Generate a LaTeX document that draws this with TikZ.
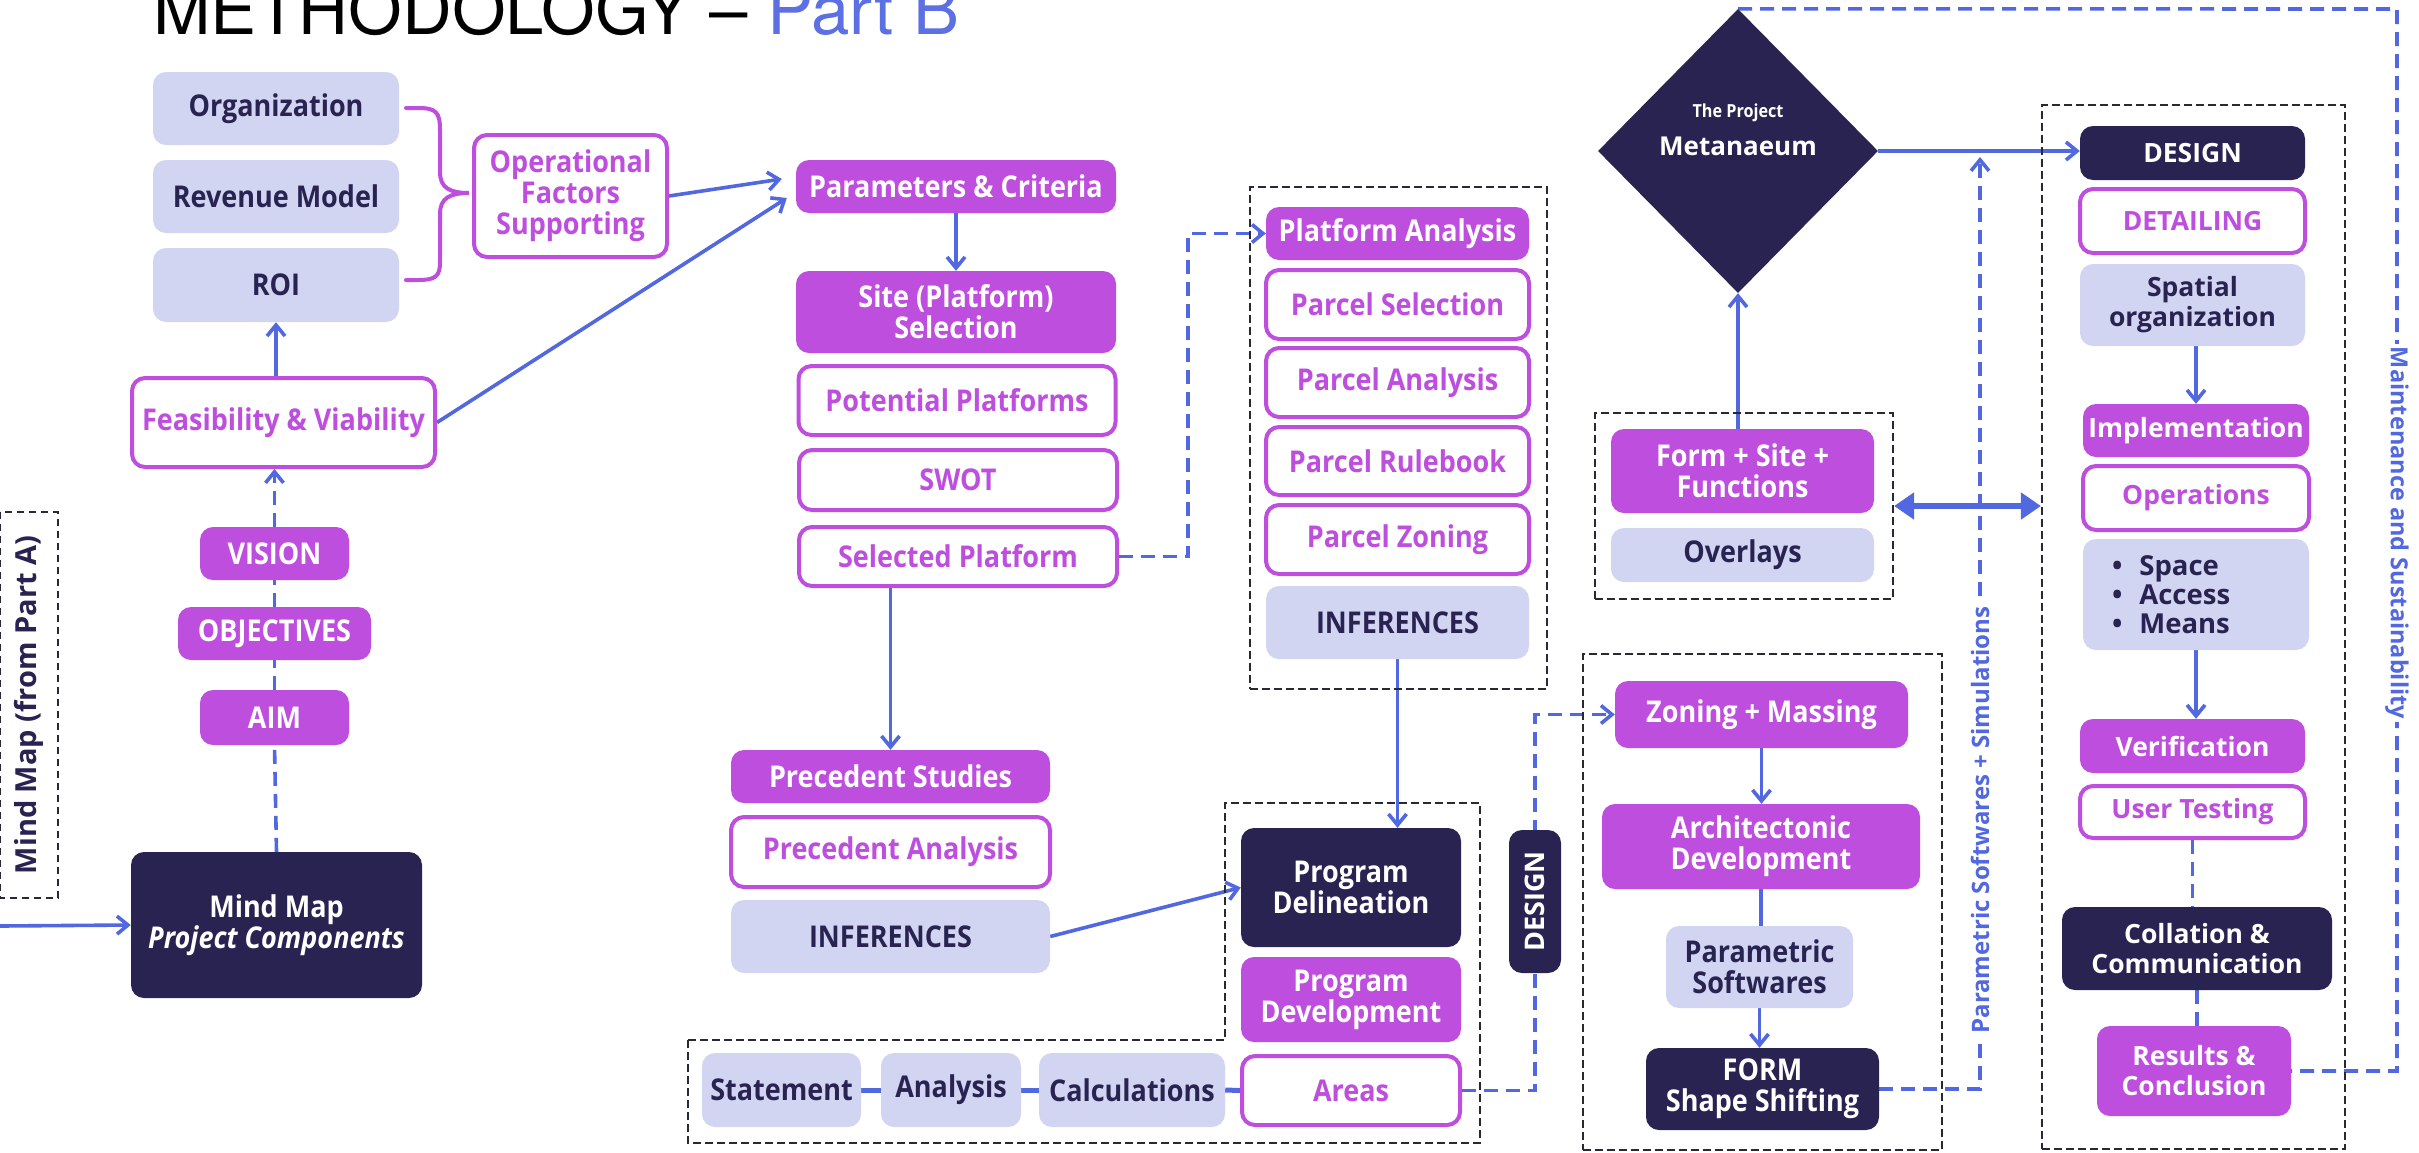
\documentclass[tikz,border=0pt]{standalone}
\usepackage{fontspec}
\setmainfont{Open Sans}
\newfontfamily\condfont{Open Sans}[FakeStretch=0.9]
\newfontfamily\headfont{TeX Gyre Heros}
\usetikzlibrary{arrows.meta,shapes.geometric,backgrounds}

\definecolor{mpurple}{RGB}{190,78,222}
\definecolor{mlav}{RGB}{209,213,241}
\definecolor{mnavy}{RGB}{41,35,82}
\definecolor{mblue}{RGB}{82,104,224}
\definecolor{mheadblue}{RGB}{92,111,227}
\definecolor{mgrey}{RGB}{40,40,55}

\begin{document}
\begin{tikzpicture}[x=1pt,y=-1pt,
  sz/.style 2 args={minimum width=#1pt, minimum height=#2pt},
  box/.style={rounded corners=13pt, inner sep=0pt, align=center,
    font=\condfont\bfseries\fontsize{30}{31}\selectfont},
  lavbox/.style={box, fill=mlav, text=mnavy},
  purbox/.style={box, fill=mpurple, text=white},
  wbox/.style={box, fill=white, draw=mpurple, line width=4pt, text=mpurple},
  navbox/.style={box, fill=mnavy, text=white},
  widefont/.style={font=\bfseries\fontsize{26.5}{30}\selectfont},
  group/.style={draw=mgrey, line width=2.2pt, dash pattern=on 8pt off 4pt, inner sep=0pt},
  link/.style={draw=mblue, line width=3.6pt},
  arr/.style={link, -{Straight Barb[length=11pt,width=18pt]}},
  dlink/.style={link, dash pattern=on 14pt off 8pt},
  darr/.style={dlink, -{Straight Barb[length=11pt,width=18pt]}},
]
\useasboundingbox (0,0) rectangle (2419,1152);

% heading
\node[anchor=base west, inner sep=0pt, font=\headfont\fontsize{69}{69}\selectfont] (title)
  at (153,34) {METHODOLOGY – \textcolor{mheadblue}{Part B}};

% left column: operational factors and vision chain
\node[lavbox, sz={246}{73}] (org) at (276,108.5) {Organization};
\node[lavbox, sz={246}{73}] (rev) at (276,196.5) {Revenue Model};
\node[lavbox, sz={246}{74}] (roi) at (276,285) {ROI};
\node[wbox, sz={303}{89}] (feas) at (283.5,422.5) {Feasibility \& Viability};
\node[wbox, sz={193}{122}] (op) at (570.5,196) {Operational\\Factors\\Supporting};
\draw[mpurple, line width=4pt, line cap=round]
  (406,108) -- (418,108) .. controls (436,108) and (440,112) .. (440,130) -- (440,172)
  .. controls (440,188) and (450,193) .. (469,193)
  .. controls (450,193) and (440,198) .. (440,214) -- (440,262)
  .. controls (440,276) and (436,280) .. (418,280) -- (406,280);
\node[purbox, sz={149}{53}] (vision) at (274.5,553.5) {VISION};
\node[purbox, sz={193}{53}] (objectives) at (274.5,633.5) {OBJECTIVES};
\node[purbox, sz={149}{55}] (aim) at (274.5,717.5) {AIM};
\node[navbox, sz={291}{146}] (mindmap) at (276.5,925) {Mind Map\\\textit{Project Components}};
\node[group, line width=1.8pt, dash pattern=on 7pt off 5pt, rotate=90, text=mnavy,
  font=\bfseries\fontsize{29}{32}\selectfont, sz={386}{58}] (parta) at (29,705) {Mind Map (from Part A)};

% site selection column
\node[purbox, sz={320}{53}] (params) at (956,186.5) {Parameters \& Criteria};
\node[purbox, sz={320}{82}] (site) at (956,312) {Site (Platform)\\Selection};
\node[wbox, sz={317}{69}] (potential) at (957,400.5) {Potential Platforms};
\node[wbox, sz={318}{60}] (swot) at (958,480) {SWOT};
\node[wbox, sz={318}{59}] (selected) at (958,556.5) {Selected Platform};

% platform analysis group
\node[group, sz={297}{502}] (platbox) at (1398.5,438) {};
\node[purbox, sz={263}{53}] (platan) at (1397.5,233.5) {Platform Analysis};
\node[wbox, sz={263}{69}] (psel) at (1397.5,304.5) {Parcel Selection};
\node[wbox, sz={263}{69}] (pana) at (1397.5,382.5) {Parcel Analysis};
\node[wbox, sz={263}{68}] (prule) at (1397.5,461) {Parcel Rulebook};
\node[wbox, sz={263}{69}] (pzon) at (1397.5,539.5) {Parcel Zoning};
\node[lavbox, sz={263}{73}] (pinf) at (1397.5,622.5) {INFERENCES};

% precedents
\node[purbox, sz={319}{53}] (precst) at (890.5,776.5) {Precedent Studies};
\node[wbox, sz={319}{70}] (precan) at (890.5,852) {Precedent Analysis};
\node[lavbox, sz={319}{73}] (inf2) at (890.5,936.5) {INFERENCES};

% program group
\draw[group] (688,1040) -- (1225,1040) -- (1225,803) -- (1480,803) -- (1480,1143) -- (688,1143) -- cycle;
\node[navbox, sz={220}{119}] (progdel) at (1351,887.5) {Program\\Delineation};
\node[purbox, sz={220}{85}] (progdev) at (1351,999.5) {Program\\Development};
\node[wbox, sz={218}{69}] (areas) at (1351,1090.5) {Areas};
\node[lavbox, sz={159}{74}] (statement) at (781.5,1090) {Statement};
\node[lavbox, sz={140}{74}] (analysis) at (951,1090) {Analysis};
\node[lavbox, sz={186}{74}] (calc) at (1132,1090) {Calculations};
\node[navbox, rotate=90, font=\bfseries\fontsize{27}{30}\selectfont, sz={143}{52}] (designv) at (1535,901.5) {DESIGN};

% form group
\node[group, sz={359}{496}] (zonebox) at (1762.5,902) {};
\node[purbox, sz={293}{67}] (zoning) at (1761.5,714.5) {Zoning + Massing};
\node[purbox, sz={318}{85}] (archi) at (1761,846.5) {Architectonic\\Development};
\node[lavbox, sz={187}{82}] (param) at (1759.5,967) {Parametric\\Softwares};
\node[navbox, sz={233}{82}] (form) at (1762.5,1089) {FORM\\Shape Shifting};

% the project
\node[diamond, fill=mnavy, minimum width=280pt, minimum height=284pt, inner sep=0pt] (proj) at (1738,151) {};
\node[text=white, font=\condfont\bfseries\fontsize{18}{20}\selectfont] (projtag) at (1738,113) {The Project};
\node[text=white, font=\bfseries\fontsize{26}{30}\selectfont] (projname) at (1738,146) {Metanaeum};
\node[group, sz={298}{186}] (formbox) at (1744,506) {};
\node[purbox, sz={263}{84}] (formsite) at (1742.5,471) {Form + Site +\\Functions};
\node[lavbox, sz={263}{54}] (overlays) at (1742.5,555) {Overlays};

% design group
\node[group, sz={303}{1044}] (designbox) at (2193.5,627) {};
\node[navbox, widefont, sz={225}{54}] (design) at (2192.5,153) {DESIGN};
\node[wbox, widefont, sz={225}{64}] (detailing) at (2192.5,221) {DETAILING};
\node[lavbox, widefont, sz={225}{82}] (spatial) at (2192.5,305) {Spatial\\organization};
\node[purbox, widefont, sz={226}{53}] (impl) at (2196,430.5) {Implementation};
\node[wbox, widefont, sz={226}{64}] (operations) at (2196,498) {Operations};
\node[lavbox, font=\bfseries\fontsize{27.5}{29}\selectfont, sz={226}{111}, text width=168pt, align=left] (sam)
  at (2196,594.5) {\textbullet\hspace{17pt}Space\\\textbullet\hspace{17pt}Access\\\textbullet\hspace{17pt}Means};
\node[purbox, widefont, sz={225}{54}] (verif) at (2192.5,746) {Verification};
\node[wbox, widefont, sz={225}{52}] (usertest) at (2192.5,812) {User Testing};
\node[navbox, widefont, sz={270}{83}] (collation) at (2197,948.5) {Collation \&\\Communication};
\node[purbox, widefont, sz={194}{90}] (results) at (2194,1071) {Results \&\\Conclusion};

% loop labels
\node[rotate=90, fill=white, text=mblue, inner sep=3pt, font=\bfseries\fontsize{24}{28}\selectfont] (simlabel)
  at (1980,820) {Parametric Softwares + Simulations};
\node[rotate=-90, fill=white, text=mblue, inner sep=3pt, font=\bfseries\fontsize{23.5}{28}\selectfont] (mainlabel)
  at (2397,533) {Maintenance and Sustainability};

% free ends and bends
\coordinate (mmin) at (0,926);
\coordinate (selknee) at (1188,0);
\coordinate (dknee) at (1535,0);
\coordinate (simtop) at (1980,157);
\coordinate (mcorner) at (2397,9);

\begin{scope}[on background layer]
\fill[white] (0,0) rectangle (2419,1152);
\draw[arr] (roi.south |- feas.north) -- (roi.south);
\draw[darr] (vision.north) -- (vision.north |- feas.south);
\draw[dlink] (objectives.north) -- (vision.south);
\draw[dlink] (aim.north) -- (objectives.south);
\draw[dlink] (mindmap.north) -- (aim.south);
\draw[arr] (mmin) -- (mindmap.west);
\draw[arr] (op.east) -- ([shift={(-14,-7.5)}]params.west);
\draw[arr] (feas.east) -- ([shift={(-9,11.5)}]params.west);
\draw[arr] (params.south) -- (site.north);
\draw[arr] (precst.north |- selected.south) -- (precst.north);
\draw[darr] (selected.east) -| (selknee |- platan.west) -- (platan.west);
\draw[arr] (pinf.south) -- (pinf.south |- progdel.north);
\draw[arr] (inf2.east) -- (progdel.west);
\draw[link, line width=5pt] (statement.east) -- (analysis.west);
\draw[link, line width=5pt] (analysis.east) -- (calc.west);
\draw[link, line width=5pt] (calc.east) -- (areas.west);
\draw[darr] (areas.east) -| (dknee |- zoning.west) -- (zoning.west);
\draw[arr] (zoning.south) -- (zoning.south |- archi.north);
\draw[link] (archi.south) -- (archi.south |- param.north);
\draw[arr] (param.south) -- (param.south |- form.north);
\draw[darr] (form.east) -| (simtop);
\draw[arr] (proj.east) -- (proj.east -| design.west);
\draw[arr] (proj.south |- formsite.north) -- (proj.south);
\draw[link, line width=5.5pt, {Triangle[length=20pt,width=26pt]}-{Triangle[length=20pt,width=26pt]}]
  (formbox.east) -- (formbox.east -| designbox.west);
\draw[dlink] (proj.north) -- (mcorner) -- (mcorner |- results.east) -- (results.east);
\draw[arr] (impl.north |- spatial.south) -- (impl.north);
\draw[arr] (sam.south) -- (sam.south |- verif.north);
\draw[dlink] (usertest.south) -- (usertest.south |- collation.north);
\draw[dlink] (collation.south) -- (collation.south |- results.north);
\end{scope}
\end{tikzpicture}
\end{document}
